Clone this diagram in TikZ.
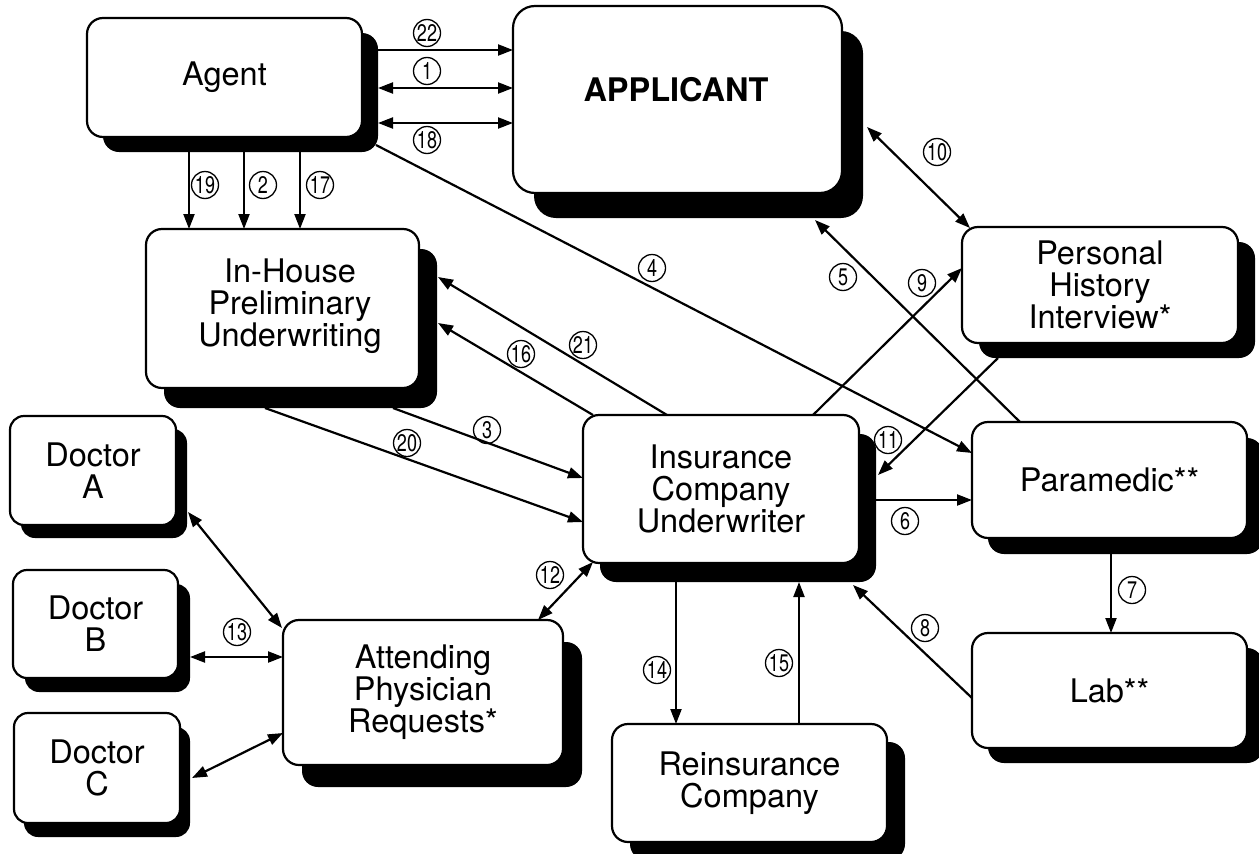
\documentclass[tikz,border=0pt]{standalone}
\usepackage{fontspec}
\setmainfont{TeX Gyre Heros}
\usepackage{graphicx}
\usetikzlibrary{arrows.meta,shadows,calc}
\tikzset{
  box/.style={draw, line width=2.2pt, fill=white, rounded corners=16pt, align=center,
    outer sep=0pt, inner sep=0pt, font=\fontsize{32.5}{32}\selectfont},
  shad/.style 2 args={general shadow={fill=black, shadow xshift=#1pt, shadow yshift=-#2pt}},
  cnum/.style={draw, circle, line width=1.3pt, minimum size=27pt, inner sep=0pt,
    font=\fontsize{24}{24}\selectfont},
  arr/.style={line width=2.2pt, -{Triangle[length=15pt,width=11pt]}},
  darr/.style={line width=2.2pt, {Triangle[length=15pt,width=11pt]}-{Triangle[length=15pt,width=11pt]}}
}
\newcommand{\cn}[4]{\node[cnum] (#1) at (#2,#3) {\scalebox{0.75}[1]{#4}};}
\begin{document}
\begin{tikzpicture}[x=1pt,y=-1pt]
\useasboundingbox (0,0) rectangle (1259,854);
% boxes
\node[box, shad={16}{15}, minimum width=275pt, minimum height=119pt] (agent) at (224.5,77.5) {Agent};
\node[box, shad={21}{25}, rounded corners=22pt, minimum width=329pt, minimum height=187pt] (applicant) at (677.5,99.5) {};
\node[font=\fontsize{32.5}{32}\selectfont\bfseries] (applicanttext) at (676,90) {APPLICANT};
\node[box, shad={18}{20}, minimum width=273pt, minimum height=159pt] (inhouse) at (282.5,308.5) {};
\node[font=\fontsize{32.5}{32}\selectfont, align=center] (inhousetext) at (290,306) {In-House\\Preliminary\\Underwriting};
\node[box, shad={17}{15}, minimum width=276pt, minimum height=116pt] (personal) at (1100,285) {Personal\\History\\Interview*};
\node[box, shad={16}{16}, minimum width=275pt, minimum height=116pt] (paramedic) at (1109.5,480) {Paramedic**};
\node[box, shad={16}{15}, minimum width=275pt, minimum height=115pt] (lab) at (1109.5,690.5) {Lab**};
\node[box, shad={17}{19}, minimum width=276pt, minimum height=148pt] (insurance) at (721,489) {Insurance\\Company\\Underwriter};
\node[box, shad={18}{18}, minimum width=275pt, minimum height=118pt] (reinsurance) at (749.5,783) {Reinsurance\\Company};
\node[box, shad={19}{22}, minimum width=280pt, minimum height=145pt] (attending) at (423,692.5) {Attending\\Physician\\Requests*};
\node[box, shad={11}{13}, rounded corners=14pt, minimum width=166pt, minimum height=109pt] (docA) at (93,470.5) {Doctor\\A};
\node[box, shad={12}{14}, rounded corners=14pt, minimum width=165pt, minimum height=108pt] (docB) at (95.5,624) {Doctor\\B};
\node[box, shad={10}{14}, rounded corners=14pt, minimum width=166pt, minimum height=110pt] (docC) at (97,768) {Doctor\\C};
% connectors
\draw[arr]  ($(agent.north west)+(291,32)$)  -- ($(applicant.north west)+(0,44)$);
\draw[darr] ($(agent.north west)+(291,70)$)  -- ($(applicant.north west)+(0,82)$);
\draw[darr] ($(agent.north west)+(291,105)$) -- ($(applicant.north west)+(0,117)$);
\draw[arr]  ($(agent.north west)+(102,134)$) -- ($(inhouse.north west)+(43,0)$);
\draw[arr]  ($(agent.north west)+(157,134)$) -- ($(inhouse.north west)+(98,0)$);
\draw[arr]  ($(agent.north west)+(213,134)$) -- ($(inhouse.north west)+(154,0)$);
\draw[arr]  ($(agent.north west)+(289,127)$) -- ($(paramedic.north west)+(0,31)$);
\draw[arr]  ($(insurance.north west)+(84,0)$) -- ($(inhouse.north west)+(292,48)$);
\draw[arr]  ($(insurance.north west)+(10,0)$) -- ($(inhouse.north west)+(292,94)$);
\draw[arr]  ($(inhouse.north west)+(247,179)$) -- ($(insurance.north west)+(0,63)$);
\draw[arr]  ($(inhouse.north west)+(119,179)$) -- ($(insurance.north west)+(0,107)$);
\draw[darr] ($(attending.north west)+(255,0)$) -- ($(insurance.north west)+(10,147)$);
\draw[darr] ($(docA.north west)+(178,96)$) -- ($(attending.north west)+(-1,8)$);
\draw[darr] ($(docB.north west)+(177,87)$) -- ($(attending.north west)+(0,37)$);
\draw[darr] ($(docC.north west)+(178,65)$) -- ($(attending.north west)+(0,113)$);
\draw[arr]  ($(insurance.north west)+(93,167)$) -- ($(reinsurance.north west)+(64,0)$);
\draw[arr]  ($(reinsurance.north west)+(187,0)$) -- ($(insurance.north west)+(216,167)$);
\draw[arr]  ($(lab.north west)+(0,65)$) -- ($(insurance.north west)+(270,170)$);
\draw[arr]  ($(paramedic.north west)+(139,132)$) -- ($(lab.north west)+(139,0)$);
\draw[arr]  ($(insurance.north west)+(293,85)$) -- ($(paramedic.north west)+(0,78)$);
\draw[arr]  ($(personal.north west)+(36,131)$) -- ($(insurance.north west)+(295,60)$);
\draw[arr]  ($(insurance.north west)+(230,0)$) -- ($(personal.north west)+(0,41)$);
\draw[arr]  ($(paramedic.north west)+(48,0)$) -- ($(applicant.north west)+(302,214)$);
\draw[darr] ($(applicant.north west)+(354,121)$) -- ($(personal.north west)+(8,1)$);
% circled numbers
\cn{n22}{427}{33}{22}
\cn{n1}{427}{71}{1}
\cn{n18}{427}{140}{18}
\cn{n19}{205}{185}{19}
\cn{n2}{263}{185}{2}
\cn{n17}{320}{185}{17}
\cn{n4}{652}{268}{4}
\cn{n21}{583}{345}{21}
\cn{n16}{521}{354}{16}
\cn{n3}{487}{430}{3}
\cn{n20}{407}{443}{20}
\cn{n12}{550}{575}{12}
\cn{n13}{237}{632}{13}
\cn{n14}{657}{670}{14}
\cn{n15}{779}{663}{15}
\cn{n8}{925}{628}{8}
\cn{n7}{1132}{590}{7}
\cn{n6}{905}{521}{6}
\cn{n11}{888}{440}{11}
\cn{n9}{922}{283}{9}
\cn{n5}{843}{277}{5}
\cn{n10}{937}{152}{10}
\end{tikzpicture}
\end{document}
